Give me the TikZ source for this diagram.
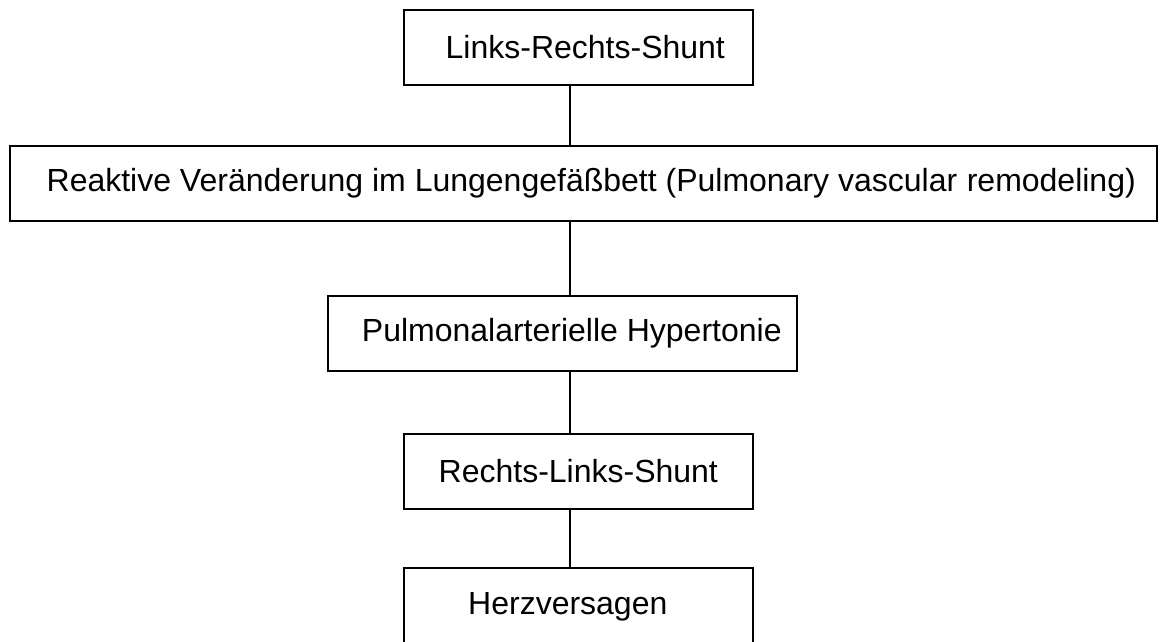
\documentclass[tikz,border=0pt]{standalone}
\usepackage{fontspec}
\setmainfont{Liberation Sans}
\begin{document}
\begin{tikzpicture}[x=1pt,y=-1pt,
  box/.style={draw=black, line width=1.6pt, rectangle, inner sep=0pt, anchor=north west,
    font=\fontsize{32}{36}\selectfont},
  conn/.style={draw=black, line width=1.6pt}]
\useasboundingbox (0,0) rectangle (1163,641);
\coordinate (spine) at (570,0);
\node[box, minimum width=349pt, minimum height=75pt] (b1) at (403,9) {\hspace{14pt}Links-Rechts-Shunt};
\node[box, minimum width=1147pt, minimum height=75pt] (b2) at (9,145) {\hspace{16pt}Reaktive Veränderung im Lungengefäßbett (Pulmonary vascular\hspace{0.3em}remodeling)};
\node[box, minimum width=469pt, minimum height=75pt] (b3) at (327,295) {\hspace{19pt}Pulmonalarterielle Hypertonie};
\node[box, minimum width=349pt, minimum height=75pt] (b4) at (403,433) {Rechts-Links-Shunt};
\node[box, minimum width=349pt, minimum height=78pt] (b5) at (403,567) {\raisebox{-3pt}{Herzversagen}\kern21pt};
\draw[conn] (b1.south -| spine) -- (b2.north -| spine);
\draw[conn] (b2.south -| spine) -- (b3.north -| spine);
\draw[conn] (b3.south -| spine) -- (b4.north -| spine);
\draw[conn] (b4.south -| spine) -- (b5.north -| spine);
\end{tikzpicture}
\end{document}
